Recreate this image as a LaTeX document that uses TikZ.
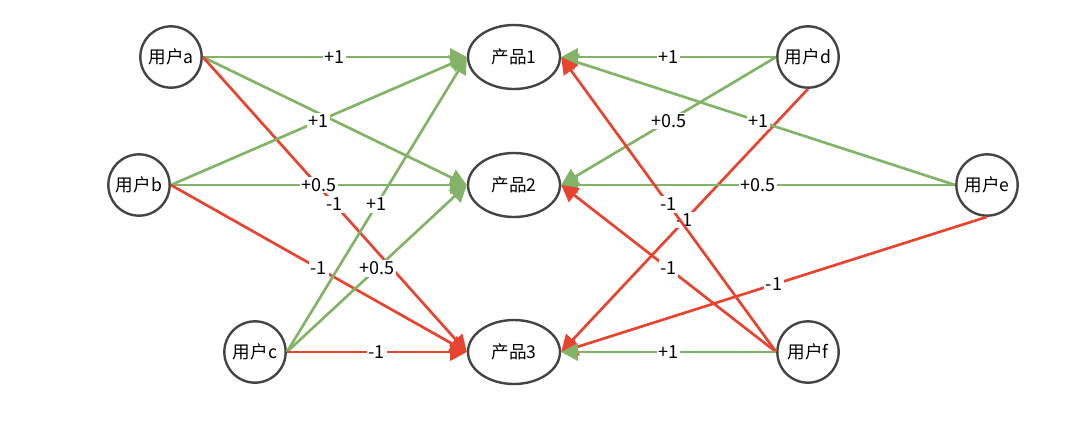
\documentclass[tikz,border=0pt]{standalone}
\usepackage{fontspec}
\newfontfamily\cjkfont{Noto Sans CJK SC}
\usetikzlibrary{arrows.meta, shapes.geometric}
\definecolor{posline}{HTML}{82B366}
\definecolor{negline}{HTML}{E8432E}
\definecolor{noderule}{HTML}{444444}

\begin{document}
\begin{tikzpicture}[
  x=0.75pt, y=-0.75pt,
  font=\cjkfont,
  user/.style={
    circle, draw=noderule, line width=1.8pt,
    fill=white,
    minimum size=46pt, inner sep=0pt,
    font=\cjkfont\fontsize{13.2}{15}\selectfont
  },
  prod/.style={
    ellipse, draw=noderule, line width=1.8pt,
    fill=white,
    minimum width=69pt, minimum height=48pt, inner sep=0pt,
    font=\cjkfont\fontsize{13.2}{15}\selectfont
  },
  posarrow/.style={-{Triangle[length=12.5pt, width=13pt]}, line width=2pt, color=posline},
  negarrow/.style={-{Triangle[length=12.5pt, width=13pt]}, line width=2pt, color=negline},
  wlabel/.style={fill=white, inner sep=1.2pt, text=black,
    font=\cjkfont\fontsize{13.5}{15}\selectfont}
]
\useasboundingbox (0,0) rectangle (1080,429);

% =============================================================================
% Pixel grid of the reference (x right, y down). Users left and right,
% products in the middle column.
% =============================================================================

% --- left users
\node[user] (usera) at (171, 57) {用户a};
\node[user] (userb) at (139,185) {用户b};
\node[user] (userc) at (255,352) {用户c};

% --- products
\node[prod] (prod1) at (514, 57) {产品1};
\node[prod] (prod2) at (514,185) {产品2};
\node[prod] (prod3) at (514,352) {产品3};

% --- right users
\node[user] (userd) at (808, 57) {用户d};
\node[user] (usere) at (987,185) {用户e};
\node[user] (userf) at (808,352) {用户f};

% =============================================================================
% Ratings (green = positive, red = negative)
% =============================================================================
\draw[posarrow] (usera.east) -- node[wlabel] {+1} (prod1.west);
\draw[posarrow] (usera.east) -- (prod2.west);
\draw[negarrow] (usera.east) -- node[wlabel] {-1} (prod3.west);

\draw[posarrow] (userb.east) -- node[wlabel] {+1} (prod1.west);
\draw[posarrow] (userb.east) -- node[wlabel] {+0.5} (prod2.west);
\draw[negarrow] (userb.east) -- node[wlabel] {-1} (prod3.west);

\draw[posarrow] (userc.east) -- node[wlabel] {+1} (prod1.west);
\draw[posarrow] (userc.east) -- node[wlabel] {+0.5} (prod2.west);
\draw[negarrow] (userc.east) -- node[wlabel] {-1} (prod3.west);

\draw[posarrow] (userd.west) -- node[wlabel] {+1} (prod1.east);
\draw[posarrow] (userd.west) -- node[wlabel] {+0.5} (prod2.east);
\draw[negarrow] (userd.south) -- node[wlabel] {-1} (prod3.east);

\draw[posarrow] (usere.west) -- node[wlabel] {+1} (prod1.east);
\draw[posarrow] (usere.west) -- node[wlabel] {+0.5} (prod2.east);
\draw[negarrow] (usere.south) -- node[wlabel] {-1} (prod3.east);

\draw[negarrow] (userf.west) -- node[wlabel] {-1} (prod1.east);
\draw[negarrow] (userf.west) -- node[wlabel] {-1} (prod2.east);
\draw[posarrow] (userf.west) -- node[wlabel] {+1} (prod3.east);

\end{tikzpicture}
\end{document}
